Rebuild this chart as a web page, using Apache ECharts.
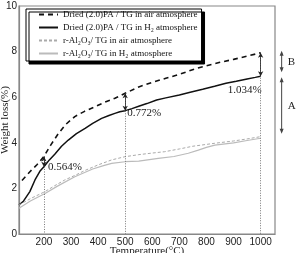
<!DOCTYPE html>
<html><head><meta charset="utf-8">
<script src="https://cdn.jsdelivr.net/npm/echarts@6/dist/echarts.min.js"></script>
<style>html,body{margin:0;padding:0;background:#fff}#c{width:296px;height:253px}</style>
</head><body><div id="c"></div>
<script>
// ---- data ----
const xTicks = [200, 300, 400, 500, 600, 700, 800, 900, 1000];
const seriesNames = [
  'Dried (2.0)PA / TG in air atmosphere',
  'Dried (2.0)PA / TG in H\u2082 atmosphere',
  'r-Al\u2082O\u2083/ TG in air atmosphere',
  'r-Al\u2082O\u2083/ TG in H\u2082 atmosphere'
];
const driedAirT = [119,150,175,200,225,253,280,314,350,388,425,462,500,550,600,650,700,764,800,850,900,950,1000];
const driedAirW = [2.35,2.75,3.05,3.4,3.9,4.4,4.8,5.15,5.38,5.58,5.78,5.95,6.17,6.45,6.65,6.83,7.0,7.27,7.38,7.53,7.66,7.8,7.95];
const driedH2T = [108,125,148,167,185,200,220,240,265,290,320,352,380,413,440,462,480,500,525,550,580,616,650,700,740,786,830,872,910,950,980,1000];
const driedH2W = [1.27,1.45,1.86,2.37,2.75,2.95,3.25,3.5,3.85,4.12,4.4,4.63,4.85,5.07,5.2,5.29,5.36,5.41,5.5,5.6,5.72,5.88,5.97,6.1,6.22,6.35,6.48,6.61,6.7,6.8,6.87,6.92];
const alAirT = [108,150,204,240,277,320,350,400,450,499,550,600,646,700,750,800,831,900,950,1000];
const alAirW = [1.27,1.55,1.86,2.12,2.37,2.6,2.78,3.03,3.25,3.39,3.48,3.55,3.61,3.73,3.85,3.93,3.98,4.08,4.17,4.27];
const alH2T = [108,150,204,250,314,380,420,450,499,550,622,680,733,770,800,831,900,950,1000];
const alH2W = [1.13,1.45,1.78,2.1,2.51,2.85,3.0,3.1,3.17,3.2,3.32,3.4,3.54,3.68,3.8,3.9,4.0,4.1,4.2];
const markTemps = [200, 500, 1000];
const markLabels = ['0.564%', '0.772%', '1.034%'];

// ---- helpers ----
const pairs = (t, w) => t.map((x, i) => [x, w[i]]);
const valAt = (t, w, x) => w[t.indexOf(x)];
const SERIF = '"Liberation Serif","Times New Roman",serif';
const SANS = '"Liberation Sans",Arial,sans-serif';

const chart = echarts.init(document.getElementById('c'));

const topVals = markTemps.map(x => valAt(driedAirT, driedAirW, x));
const botVals = markTemps.map(x => valAt(driedH2T, driedH2W, x));

const dotted = markTemps.map((x, i) => [{coord: [x, topVals[i]]}, {coord: [x, 0]}]);
const arrows = markTemps.map((x, i) => [{coord: [x, topVals[i]]}, {coord: [x, botVals[i]]}]);

chart.setOption({
  animation: false,
  grid: {left: 19, right: 21, top: 6, bottom: 19, outerBoundsMode: 'none', containLabel: false,
         show: true, borderColor: '#888', borderWidth: 1.2},
  legend: {
    orient: 'vertical', left: 26, top: 9,
    data: seriesNames,
    itemWidth: 19, itemHeight: 9, itemGap: 4,
    padding: [1, 4, 3, 12],
    itemStyle: {opacity: 0},
    backgroundColor: '#fff', borderColor: '#000', borderWidth: 1,
    shadowColor: '#000', shadowBlur: 0, shadowOffsetX: 3, shadowOffsetY: 3,
    textStyle: {fontFamily: SERIF, fontSize: 9, color: '#111'}
  },
  xAxis: {
    type: 'value', min: 108, max: 1053,
    axisLine: {lineStyle: {color: '#888', width: 1.2}},
    axisTick: {show: false},
    splitLine: {show: false},
    axisLabel: {customValues: xTicks, formatter: v => String(v), fontFamily: SANS, fontSize: 10, color: '#222', margin: 3},
    name: 'Temperature(\u00b0C)', nameLocation: 'middle', nameGap: 12, nameMoveOverlap: false,
    nameTextStyle: {fontFamily: SERIF, fontSize: 11, color: '#222', verticalAlign: 'top'}
  },
  yAxis: {
    type: 'value', min: 0, max: 10, interval: 2,
    axisLine: {show: true, lineStyle: {color: '#888', width: 1.2}},
    axisTick: {show: false},
    splitLine: {show: false},
    axisLabel: {fontFamily: SANS, fontSize: 10, color: '#222', margin: 2},
    name: 'Weight loss(%)', nameLocation: 'middle', nameGap: 8, nameMoveOverlap: false,
    nameTextStyle: {fontFamily: SERIF, fontSize: 11, color: '#222'}
  },
  series: [
    {name: seriesNames[0], type: 'line', symbol: 'none', data: pairs(driedAirT, driedAirW),
     lineStyle: {color: '#111', width: 1.6, type: [5, 4]}, itemStyle: {color: '#111'},
     markLine: {silent: true, symbol: 'none', label: {show: false},
       lineStyle: {color: '#777', type: [1, 1.5], width: 1}, data: dotted}},
    {name: seriesNames[1], type: 'line', symbol: 'none', data: pairs(driedH2T, driedH2W),
     lineStyle: {color: '#111', width: 1.5}, itemStyle: {color: '#111'},
     markLine: {silent: true, symbol: ['arrow', 'arrow'], symbolSize: [4, 5], label: {show: false},
       lineStyle: {color: '#222', type: 'solid', width: 0.8}, data: arrows}},
    {name: seriesNames[2], type: 'line', symbol: 'none', data: pairs(alAirT, alAirW),
     lineStyle: {color: '#aaa', width: 1, type: [3, 2]}, itemStyle: {color: '#aaa'}},
    {name: seriesNames[3], type: 'line', symbol: 'none', data: pairs(alH2T, alH2W),
     lineStyle: {color: '#bbb', width: 1.2}, itemStyle: {color: '#bbb'}}
  ]
});

// ---- annotations ----
const px = p => chart.convertToPixel({gridIndex: 0}, p);
const g = [];
const p200 = px([200, botVals[0]]);
g.push({type: 'text', x: p200[0] + 4, y: p200[1], style: {text: markLabels[0], font: '11px ' + SERIF, fill: '#222', textVerticalAlign: 'middle'}});
const p500 = px([500, botVals[1]]);
g.push({type: 'text', x: p500[0] + 2, y: p500[1] + 2, style: {text: markLabels[1], font: '11px ' + SERIF, fill: '#222', textVerticalAlign: 'middle'}});
const p1000 = px([1000, botVals[2]]);
g.push({type: 'text', x: p1000[0] + 1, y: p1000[1] + 14, style: {text: markLabels[2], font: '11px ' + SERIF, fill: '#222', textAlign: 'right', textVerticalAlign: 'middle'}});

function dArrow(x, y1, y2) {
  const c = '#444';
  return [
    {type: 'line', shape: {x1: x, y1: y1 + 2, x2: x, y2: y2 - 2}, style: {stroke: c, lineWidth: 1}},
    {type: 'polygon', shape: {points: [[x, y1], [x - 2, y1 + 5], [x + 2, y1 + 5]]}, style: {fill: c}},
    {type: 'polygon', shape: {points: [[x, y2], [x - 2, y2 - 5], [x + 2, y2 - 5]]}, style: {fill: c}}
  ];
}
const topB = px([1000, topVals[2]]);
const midAB = px([1000, botVals[2]]);
const botA = px([1000, valAt(alAirT, alAirW, 1000)]);
const ax = topB[0] + 21;
g.push(...dArrow(ax, topB[1] - 2, midAB[1] - 4));
g.push(...dArrow(ax, midAB[1] + 1, botA[1] - 3));
g.push({type: 'text', x: ax + 6, y: (topB[1] + midAB[1]) / 2 - 2, style: {text: 'B', font: '11px ' + SERIF, fill: '#222', textVerticalAlign: 'middle'}});
g.push({type: 'text', x: ax + 6, y: (midAB[1] + botA[1]) / 2, style: {text: 'A', font: '11px ' + SERIF, fill: '#222', textVerticalAlign: 'middle'}});
chart.setOption({graphic: g});
</script>
</body></html>
